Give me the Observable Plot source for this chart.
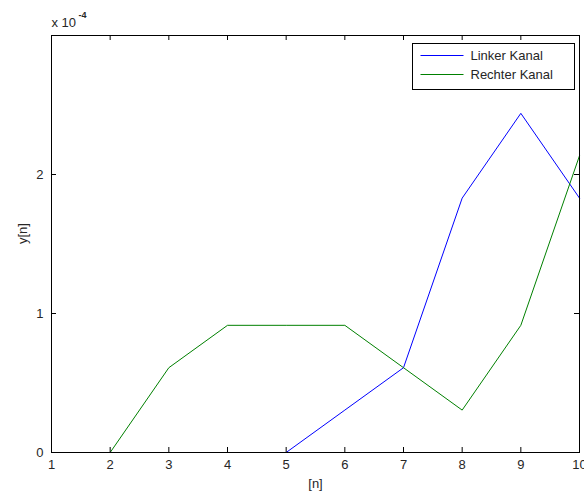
<!DOCTYPE html>
<html>
<head>
<meta charset="utf-8">
<script src="https://cdn.jsdelivr.net/npm/d3@7"></script>
<script src="https://cdn.jsdelivr.net/npm/@observablehq/plot@0.6"></script>
<style>
  html, body { margin: 0; padding: 0; background: #fff; }
  #chart { width: 584px; height: 495px; }
</style>
</head>
<body>
<div id="chart"></div>
<script>
// ---- data ----
const n = [1, 2, 3, 4, 5, 6, 7, 8, 9, 10];
const linkerKanal = [0, 0, 0, 0, 0, 0.305e-4, 0.61e-4, 1.83e-4, 2.44e-4, 1.83e-4];
const rechterKanal = [0, 0, 0.61e-4, 0.915e-4, 0.915e-4, 0.915e-4, 0.61e-4, 0.305e-4, 0.915e-4, 2.135e-4];
const seriesNames = ["Linker Kanal", "Rechter Kanal"];
const seriesColors = ["#0000ff", "#008000"];
const xTicks = [1, 2, 3, 4, 5, 6, 7, 8, 9, 10];
const yTicks = [0, 1e-4, 2e-4];
const yDomain = [0, 3e-4];
const xDomain = [1, 10];

const rows = [];
[linkerKanal, rechterKanal].forEach((vals, s) => {
  vals.forEach((v, i) => rows.push({n: n[i], y: v, series: seriesNames[s]}));
});

const font = "'Liberation Sans', Arial, sans-serif";
const textColor = "#262626";
const W = 584, H = 495, mL = 51, mR = 5, mT = 35, mB = 43;
const frameW = W - mL - mR, frameH = H - mT - mB;
const T = 5; // inward tick length

const plot = Plot.plot({
  width: W,
  height: H,
  marginLeft: mL,
  marginRight: mR,
  marginTop: mT,
  marginBottom: mB,
  style: {fontFamily: font, fontSize: "13px", color: textColor, background: "#fff"},
  x: {domain: xDomain},
  y: {domain: yDomain},
  color: {domain: seriesNames, range: seriesColors},
  marks: [
    Plot.line(rows, {x: "n", y: "y", z: "series", stroke: "series", strokeWidth: 1}),
    Plot.frame({stroke: "#000", strokeWidth: 1}),
    // inward tick marks on all four sides
    Plot.tickX(xTicks, {x: d => d, insetTop: frameH - T, stroke: "#000"}),
    Plot.tickX(xTicks, {x: d => d, insetBottom: frameH - T, stroke: "#000"}),
    Plot.tickY(yTicks, {y: d => d, insetRight: frameW - T, stroke: "#000"}),
    Plot.tickY(yTicks, {y: d => d, insetLeft: frameW - T, stroke: "#000"}),
    // tick labels
    Plot.axisX({ticks: xTicks, tickSize: 0, tickPadding: 7, label: null, fill: textColor, fontSize: 13}),
    Plot.axisY({ticks: yTicks, tickSize: 0, tickPadding: 8, label: null, tickFormat: d => d3.format("d")(Math.round(d * 1e4)), fill: textColor, fontSize: 13}),
    Plot.text(["[n]"], {frameAnchor: "bottom", dy: 35, fill: textColor, fontSize: 13}),
    Plot.text(["y[n]"], {frameAnchor: "left", dx: -29, rotate: -90, fill: textColor, fontSize: 13}),
    Plot.text(["x 10"], {frameAnchor: "top-left", textAnchor: "start", dy: -18, fill: textColor, fontSize: 13}),
    Plot.text(["-4"], {frameAnchor: "top-left", textAnchor: "start", dx: 27, dy: -24, fill: textColor, fontSize: 9, fontWeight: "bold"})
  ]
});

document.getElementById("chart").appendChild(plot);

// legend inside the plot (top-right)
const svg = d3.select(plot);
const g = svg.append("g").attr("transform", "translate(412.5,43.5)");
g.append("rect").attr("width", 162).attr("height", 46)
  .attr("fill", "#fff").attr("stroke", "#000").attr("stroke-width", 1);
seriesNames.forEach((name, i) => {
  const yy = 12 + i * 19;
  g.append("line").attr("x1", 8).attr("x2", 51).attr("y1", yy).attr("y2", yy)
    .attr("stroke", seriesColors[i]).attr("stroke-width", 1);
  g.append("text").attr("x", 58).attr("y", yy).attr("dy", "0.35em")
    .attr("text-anchor", "start")
    .attr("fill", textColor).style("font-family", font).style("font-size", "13px")
    .text(name);
});
</script>
</body>
</html>
